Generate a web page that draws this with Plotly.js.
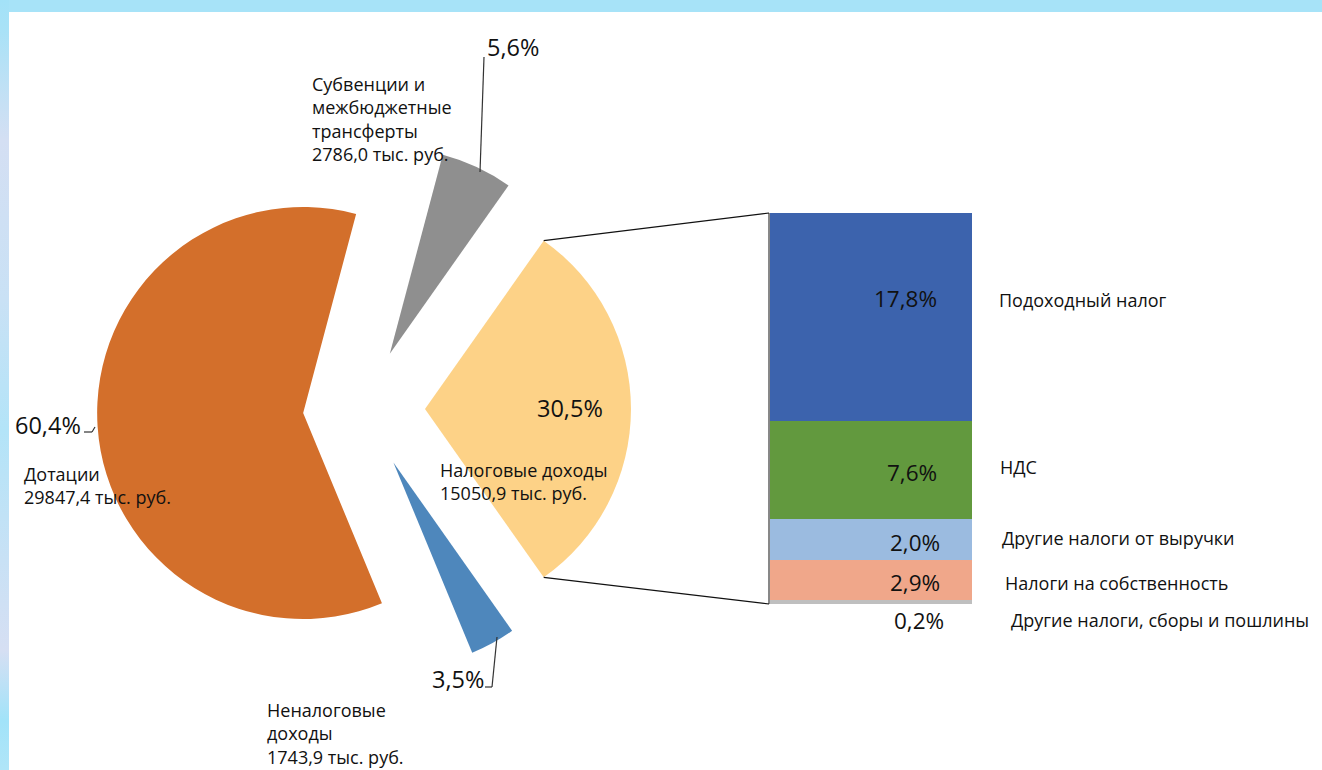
<!DOCTYPE html>
<html>
<head>
<meta charset="utf-8">
<script src="https://cdn.plot.ly/plotly-3.0.1.min.js"></script>
<style>
  html, body { margin: 0; padding: 0; background: #ffffff; }
  #wrap { position: relative; width: 1322px; height: 770px; overflow: hidden; background: #ffffff; }
  #band { position: absolute; left: 0; top: 0; width: 1322px; height: 12px; background: #a7e3f8; }
  #strip { position: absolute; left: 0; top: 0; width: 9px; height: 770px;
    background: linear-gradient(to bottom, #a3e2f8 0px, #a9e2f7 30px, #d4dff3 140px, #c9e1f5 300px, #b3e4f8 430px, #c8e1f5 560px, #d6dff3 650px, #a2e3f9 720px, #b0e5f8 770px); }
  #chart { position: absolute; left: 0; top: 0; width: 1322px; height: 770px; }
</style>
</head>
<body>
<div id="wrap">
  <div id="band"></div>
  <div id="strip"></div>
  <div id="chart"></div>
</div>
<script>
// ---------------- data ----------------
// pie (order: clockwise starting from the exploded "tax" slice)
const pieLabels = ["Налоговые доходы", "Неналоговые доходы", "Дотации", "Субвенции и межбюджетные трансферты"];
const pieValues = [15050.9, 1743.9, 29847.4, 2786.0];          // тыс. руб.
const piePercentText = ["30,5%", "3,5%", "60,4%", "5,6%"];
const pieAmountText = ["15050,9 тыс. руб.", "1743,9 тыс. руб.", "29847,4 тыс. руб.", "2786,0 тыс. руб."];
const pieColors = ["#fdd287", "#4e87bc", "#d36f2b", "#8f8f8f"];

// bar of the "tax" slice (bottom -> top)
const barLabels = ["Другие налоги, сборы и пошлины", "Налоги на собственность", "Другие налоги от выручки", "НДС", "Подоходный налог"];
const barPercentText = ["0,2%", "2,9%", "2,0%", "7,6%", "17,8%"];
const barHeights = [0.3, 3.1, 3.2, 7.6, 16.2];                  // segment heights as drawn, % of total
const barColors = ["#bfbfbf", "#f0a78a", "#9bbbe0", "#62993e", "#3c63ad"];

// ---------------- layout helpers ----------------
const W = 1322, H = 770;
const px = x => x / W;
const py = y => 1 - y / H;

const FONT = "Open Sans, Noto Sans, sans-serif";
const TXT = "#111111";
const BODY = 18;
const BIG = 23.5;

// pie geometry (pixels)
const pieCenter = [364, 409];
const pieR = 206;
const pull = 0.296;
const half = pieR * (1 + pull);
const pieDomainX = [px(pieCenter[0] - half), px(pieCenter[0] + half)];
const pieDomainY = [py(pieCenter[1] + half), py(pieCenter[1] - half)];

const total = pieValues.reduce((a, b) => a + b, 0);
const taxFrac = pieValues[0] / total;
const rotation = 90 - taxFrac * 180;

// bar geometry (pixels)
const barLeft = 770, barRight = 972, barTop = 213, barBottom = 604;

// ---------------- traces ----------------
const traces = [];
traces.push({
  type: "pie",
  labels: pieLabels,
  values: pieValues,
  sort: false,
  direction: "clockwise",
  rotation: rotation,
  pull: pieValues.map(() => pull),
  marker: { colors: pieColors, line: { width: 0 } },
  textinfo: "none",
  hoverinfo: "label+value+percent",
  showlegend: false,
  domain: { x: pieDomainX, y: pieDomainY }
});

barLabels.forEach((lab, i) => {
  traces.push({
    type: "bar",
    name: lab,
    x: [0],
    y: [barHeights[i]],
    width: [1],
    marker: { color: barColors[i], line: { width: 0 } },
    hoverinfo: "name",
    showlegend: false,
    xaxis: "x",
    yaxis: "y"
  });
});

const barTotal = barHeights.reduce((a, b) => a + b, 0);

// ---------------- annotations ----------------
const ann = [];
function txt(x, y, text, size, xanchor) {
  const shift = xanchor === "left" ? -2 : (xanchor === "right" ? 2 : 0);
  ann.push({
    xref: "paper", yref: "paper", x: px(x + shift), y: py(y),
    text: text, showarrow: false, xanchor: xanchor || "left", yanchor: "middle",
    align: xanchor === "right" ? "right" : "left",
    font: { family: FONT, size: size, color: TXT }
  });
}

// pie labels
txt(312, 119, "Субвенции и<br>межбюджетные<br>трансферты<br>" + pieAmountText[3], BODY, "left");
txt(487, 47, piePercentText[3], BIG, "left");
txt(15, 425, piePercentText[2], BIG, "left");
txt(24, 485, "Дотации<br>" + pieAmountText[2], BODY, "left");
txt(570, 408, piePercentText[0], BIG, "center");
txt(440, 481, "Налоговые доходы<br>" + pieAmountText[0], BODY, "left");
txt(484, 679, piePercentText[1], BIG, "right");
txt(267, 733, "Неналоговые<br>доходы<br>" + pieAmountText[1], BODY, "left");

// bar labels
const barPctPos = [[944, 620], [940, 582], [940, 542], [937, 472], [937, 298]];
const barCatPos = [[1011, 620], [1005, 583], [1002, 538], [1000, 467], [999, 300]];
barLabels.forEach((lab, i) => {
  txt(barPctPos[i][0], barPctPos[i][1], barPercentText[i], BIG - 1, "right");
  txt(barCatPos[i][0], barCatPos[i][1], lab, BODY, "left");
});

// ---------------- shapes ----------------
const shapes = [];
function line(x0, y0, x1, y1, color, width) {
  shapes.push({ type: "line", xref: "paper", yref: "paper",
    x0: px(x0), y0: py(y0), x1: px(x1), y1: py(y1),
    line: { color: color || "#000000", width: width || 1 } });
}
// connectors from exploded tax slice to the bar
const apexX = pieCenter[0] + pieR * pull;
const apexY = pieCenter[1];
const theta = taxFrac * Math.PI;
const arcTop = [apexX + pieR * Math.cos(theta), apexY - pieR * Math.sin(theta)];
const arcBot = [apexX + pieR * Math.cos(theta), apexY + pieR * Math.sin(theta)];
line(arcTop[0], arcTop[1], barLeft - 1, barTop, "#111", 1.2);
line(arcBot[0], arcBot[1], barLeft - 1, barBottom, "#111", 1.2);
line(barLeft - 1, barTop, barLeft - 1, barBottom, "#111", 1);

// leader lines
line(480, 172, 484, 57, "#333", 1.2);
line(497, 637, 492, 687, "#333", 1.2);
line(492, 687, 485, 687, "#333", 1.2);
line(84, 432, 92, 432, "#333", 1.2);
line(92, 432, 95, 427, "#333", 1.2);

// ---------------- layout ----------------
const layout = {
  width: W, height: H,
  margin: { l: 0, r: 0, t: 0, b: 0, pad: 0 },
  paper_bgcolor: "rgba(0,0,0,0)",
  plot_bgcolor: "rgba(0,0,0,0)",
  barmode: "stack",
  bargap: 0,
  showlegend: false,
  xaxis: { domain: [px(barLeft), px(barRight)], range: [-0.5, 0.5], visible: false, fixedrange: true },
  yaxis: { domain: [py(barBottom), py(barTop)], range: [0, barTotal], visible: false, fixedrange: true },
  annotations: ann,
  shapes: shapes,
  font: { family: FONT, color: TXT }
};

Plotly.newPlot("chart", traces, layout, { displayModeBar: false, staticPlot: true });
</script>
</body>
</html>
